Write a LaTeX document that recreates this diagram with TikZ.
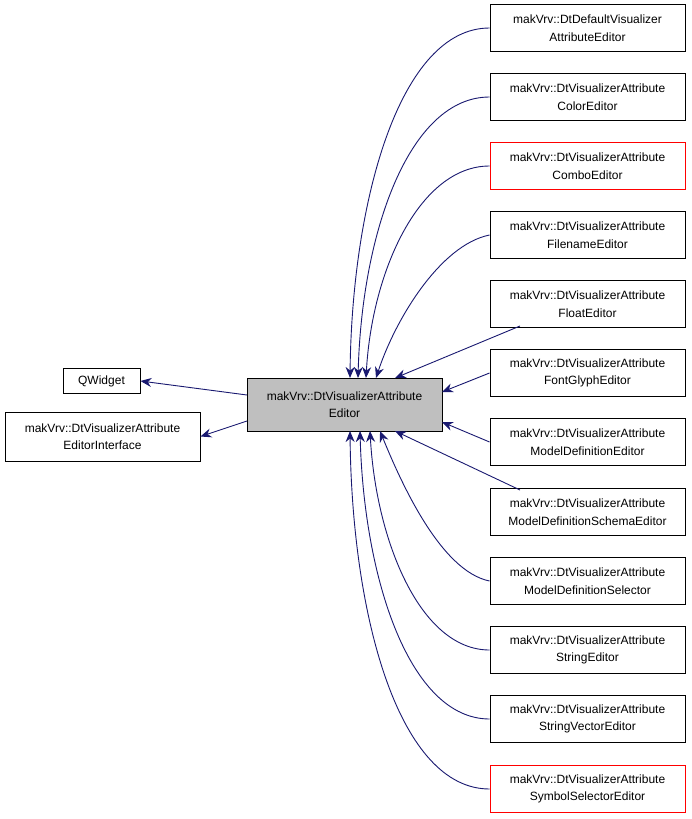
\documentclass[tikz,border=0pt]{standalone}
\usepackage{fontspec}
\setmainfont{Liberation Sans}
\usetikzlibrary{arrows.meta}
\tikzset{
  cls/.style={draw, line width=0.9pt, minimum width=195pt, minimum height=38pt, align=center, inner sep=1pt, font=\fontsize{12}{17.5}\selectfont, fill=white},
  inh/.style={draw=navy, line width=0.9pt, -{Stealth[length=11pt,width=9pt]}}
}
\definecolor{navy}{RGB}{25,25,112}
\begin{document}
\begin{tikzpicture}[x=1pt,y=-1pt]
\useasboundingbox (0,0) rectangle (691,819);

% base and interfaces
\node[cls, fill={rgb,255:red,191;green,191;blue,191}, minimum height=53pt] (ed) at (344.5,404.5) {makVrv::DtVisualizerAttribute\\Editor};
\node[cls, minimum width=77pt, minimum height=25pt] (qw) at (101.5,381) {QWidget};
\node[cls, minimum height=49pt] (itf) at (102.5,436.5) {makVrv::DtVisualizerAttribute\\EditorInterface};

\coordinate (l1) at (247,395);
\coordinate (l2) at (247,421);
\draw[inh] (l1) -- (qw.east);
\draw[inh] (l2) -- (itf.east);

% derived editors
\foreach \i/\yy/\col/\txt in {
  1/28/black/{makVrv::DtDefaultVisualizer\\AttributeEditor},
  2/97/black/{makVrv::DtVisualizerAttribute\\ColorEditor},
  3/166/red/{makVrv::DtVisualizerAttribute\\ComboEditor},
  4/235/black/{makVrv::DtVisualizerAttribute\\FilenameEditor},
  5/304/black/{makVrv::DtVisualizerAttribute\\FloatEditor},
  6/373/black/{makVrv::DtVisualizerAttribute\\FontGlyphEditor},
  7/442/black/{makVrv::DtVisualizerAttribute\\ModelDefinitionEditor},
  8/512/black/{makVrv::DtVisualizerAttribute\\ModelDefinitionSchemaEditor},
  9/581/black/{makVrv::DtVisualizerAttribute\\ModelDefinitionSelector},
  10/650/black/{makVrv::DtVisualizerAttribute\\StringEditor},
  11/719/black/{makVrv::DtVisualizerAttribute\\StringVectorEditor},
  12/789/red/{makVrv::DtVisualizerAttribute\\SymbolSelectorEditor}}
  \node[cls, draw=\col, minimum height=47pt] (c\i) at (587.5,\yy) {\txt};

% attach points on the base
\coordinate (t1) at (350,378);
\coordinate (t2) at (358,378);
\coordinate (t3) at (366,378);
\coordinate (t4) at (376,378);
\coordinate (t5) at (395,378);
\coordinate (r6) at (442,392);
\coordinate (r7) at (442,422);
\coordinate (b8) at (395,431);
\coordinate (b9) at (380,431);
\coordinate (b10) at (370,431);
\coordinate (b11) at (360,431);
\coordinate (b12) at (350,431);
\coordinate (m5) at (520,326);
\coordinate (m8) at (520,490);

\draw[inh] (c1.west) .. controls (400,28) and (352,200) .. (t1);
\draw[inh] (c2.west) .. controls (410,97) and (362,230) .. (t2);
\draw[inh] (c3.west) .. controls (420,166) and (372,270) .. (t3);
\draw[inh] (c4.west) .. controls (440,245) and (395,320) .. (t4);
\draw[inh] (m5) -- (t5);
\draw[inh] (c6.west) -- (r6);
\draw[inh] (c7.west) -- (r7);
\draw[inh] (m8) -- (b8);
\draw[inh] (c9.west) .. controls (440,571) and (400,480) .. (b9);
\draw[inh] (c10.west) .. controls (420,650) and (376,540) .. (b10);
\draw[inh] (c11.west) .. controls (410,719) and (364,580) .. (b11);
\draw[inh] (c12.west) .. controls (400,789) and (352,620) .. (b12);
\end{tikzpicture}
\end{document}
